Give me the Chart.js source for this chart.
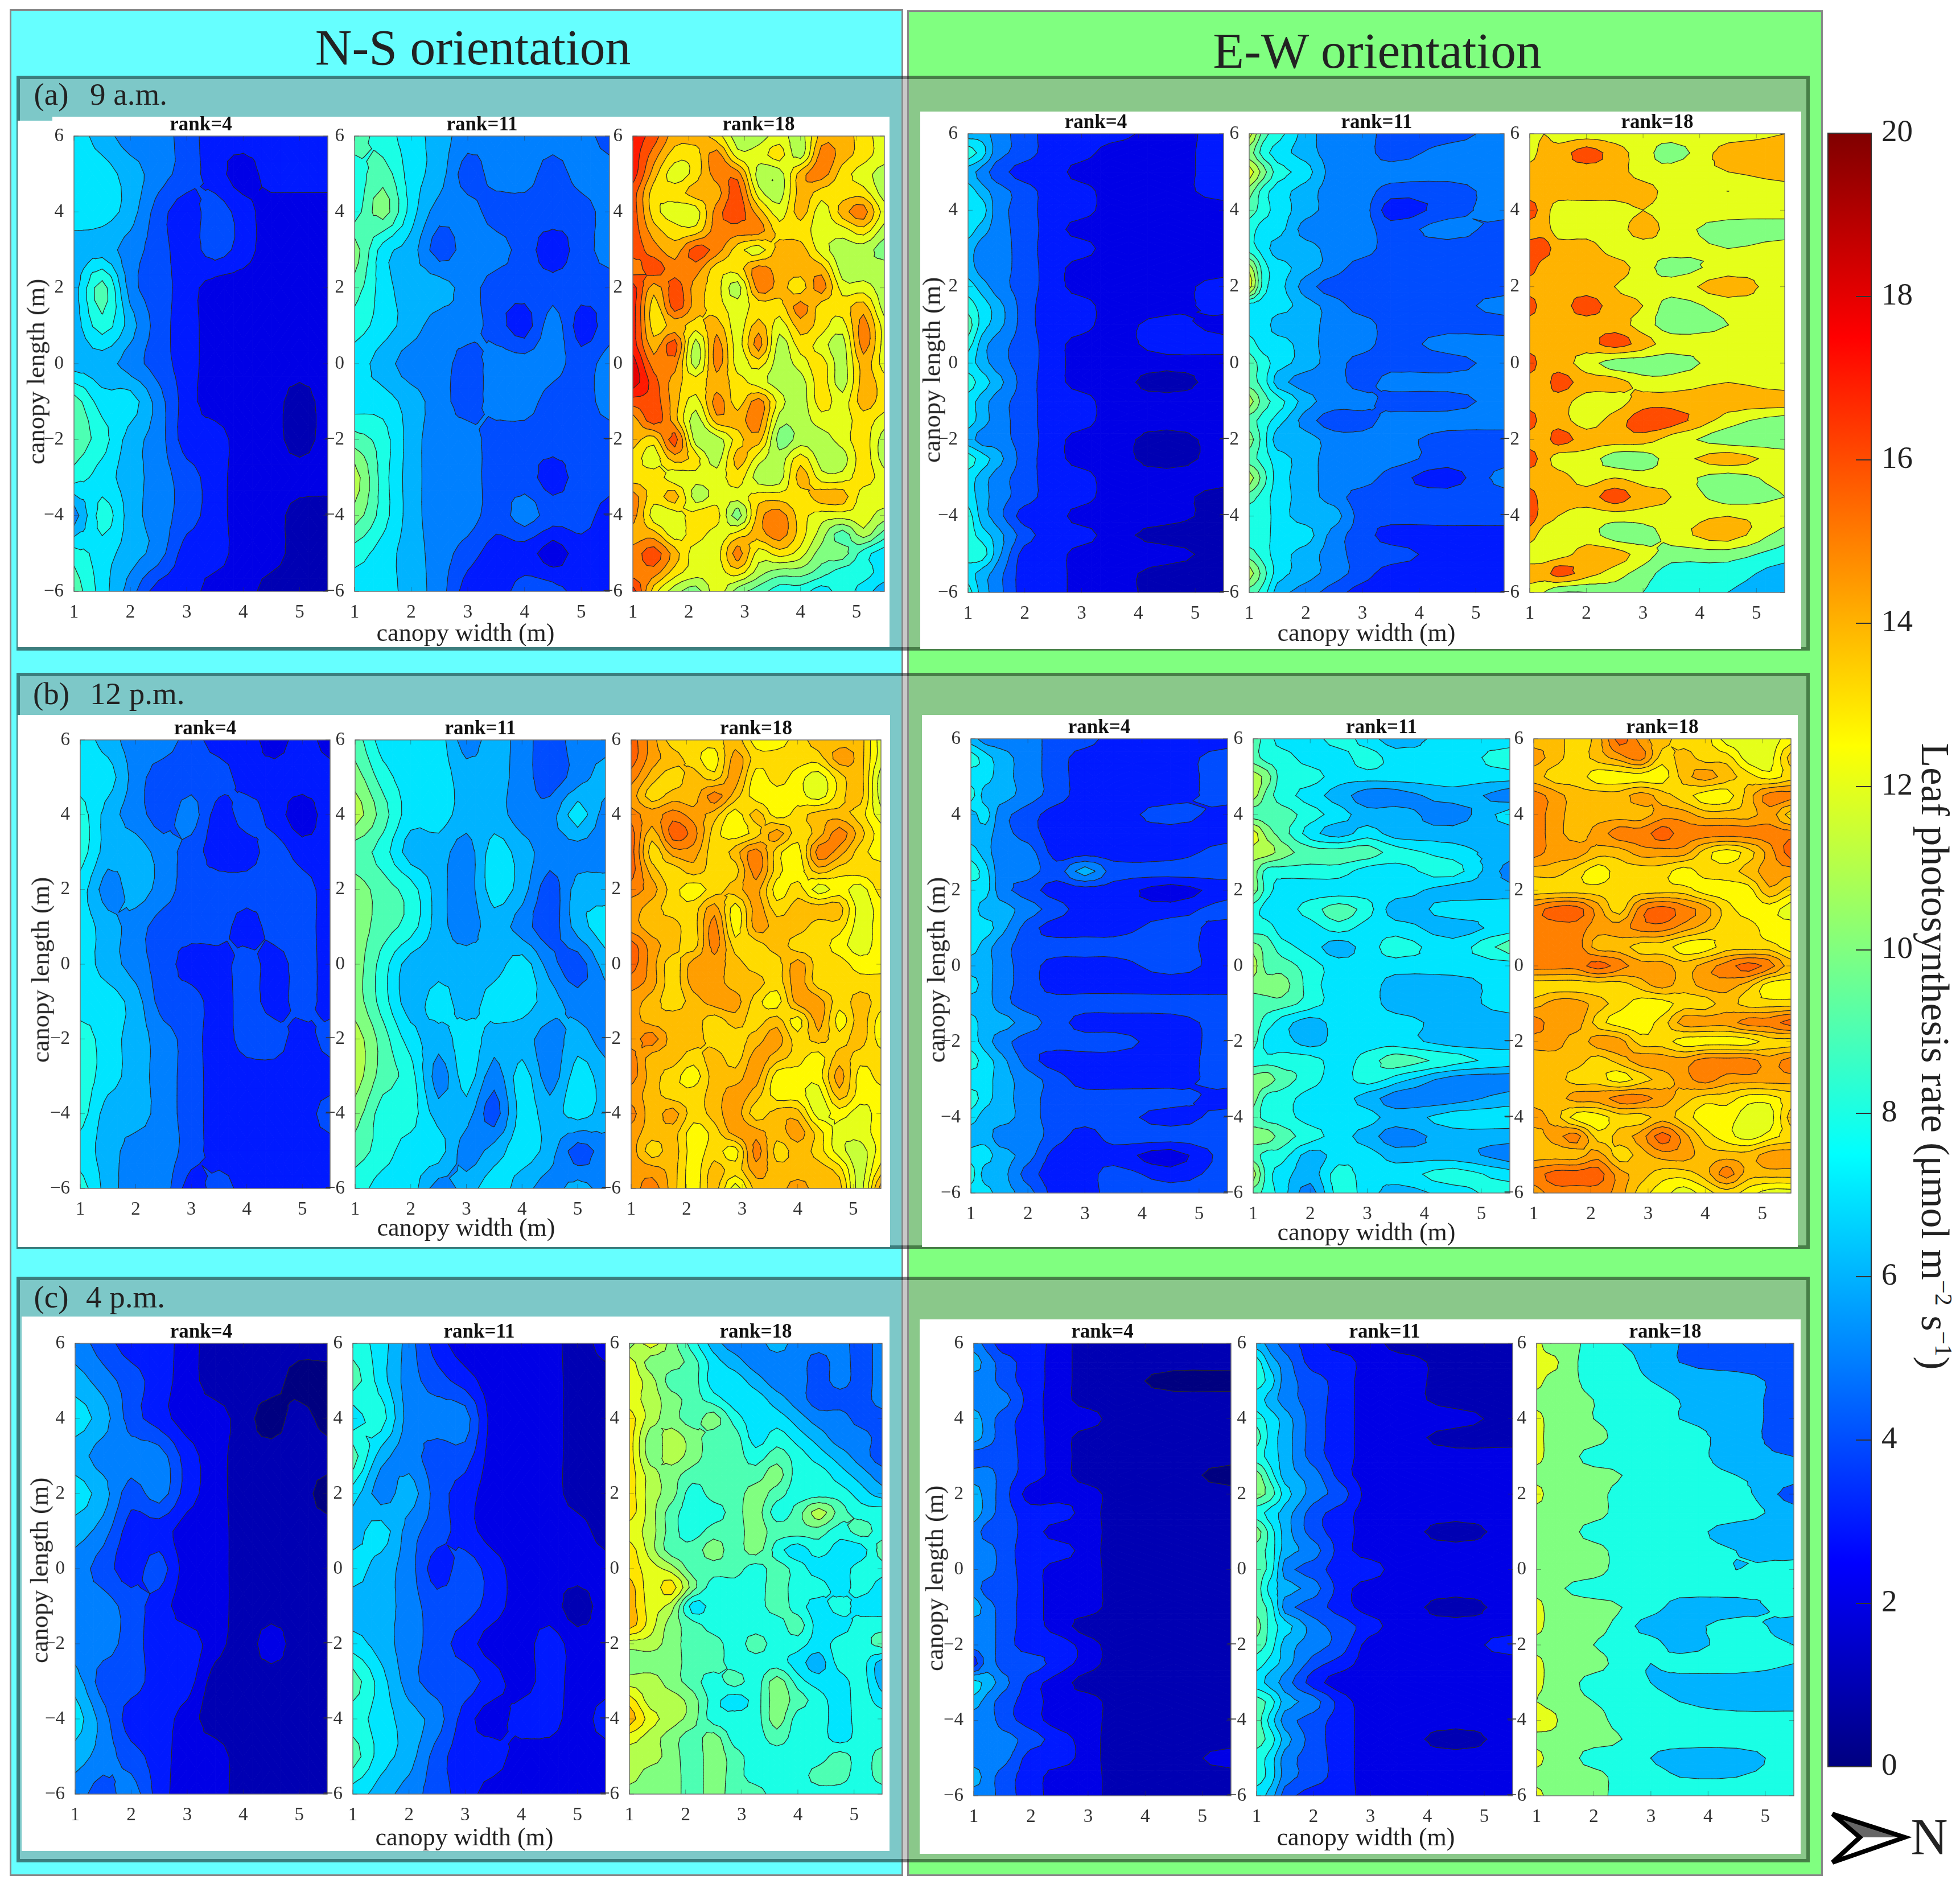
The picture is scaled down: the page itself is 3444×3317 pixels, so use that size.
<!DOCTYPE html>
<html>
<head>
<meta charset="utf-8">
<style>
html, body { margin: 0; padding: 0; background: #fff; }
#page { position: relative; width: 3444px; height: 3317px; overflow: hidden; font-family: "Liberation Serif", serif; color: #222; }
#page div, #page canvas, #page svg { position: absolute; }
.lbl { white-space: nowrap; }
</style>
<script src="https://cdn.jsdelivr.net/npm/chart.js@4/dist/chart.umd.min.js"></script>
</head>
<body>
<div id="page"></div>
<script>
// grids run top row y=6 down to y=-6, values in umol m-2 s-1
var nsX = [1, 1.5, 2, 2.5, 3, 3.5, 4, 4.5, 5, 5.5];
var nsY = [6, 5, 4, 3, 2, 1, 0, -1, -2, -3, -4, -5, -6];
var ewX = [1, 1.25, 1.5, 2, 2.5, 3, 3.5, 4.5, 5.5];
var ewY = [6, 5.5, 5, 4.5, 4, 3.5, 3, 2.5, 2, 1.5, 1, 0.5, 0, -0.5, -1, -1.5, -2, -2.5, -3, -3.5, -4, -4.5, -5, -5.5, -6];
var fineX = [1, 1.375, 1.75, 2.125, 2.5, 2.875, 3.25, 3.625, 4, 4.375, 4.75, 5.125, 5.5];
var xTicks = [1, 2, 3, 4, 5];
var yTicks = [-6, -4, -2, 0, 2, 4, 6];
var barTicks = [0, 2, 4, 6, 8, 10, 12, 14, 16, 18, 20];
var ranks = ['rank=4', 'rank=11', 'rank=18'];

var ns9r4 = [[7,6,5,5,4,3,3,3,3,3],[7,7,6,5,4,3,2,3,3,3],[7,7,6,4,3,4,3,2,2,2],[6,6,5,4,3,4,3,2,2,2],[6,9,5,4,3,2,2,2,2,2],[6,8,6,4,3,2,2,2,2,2],[6,6,5,4,3,2,2,2,2,2],[9,7,7,5,3,2,2,2,1,2],[9,8,6,5,3,3,2,2,1,2],[8,7,6,5,4,3,2,2,2,2],[5,8,6,5,4,3,2,2,1,1],[8,7,6,5,3,3,2,2,1,1],[9,7,5,3,3,2,2,1,1,1]];
var ns9r11 = [[9,8,7,6,5,5,5,5,5,4],[8,9,7,6,4,5,5,4,5,5],[8,10,7,5,5,4,4,4,4,5],[10,7,6,4,5,5,4,3,4,5],[9,7,6,6,5,4,4,4,4,4],[8,7,6,5,5,4,3,5,3,4],[7,6,5,5,4,5,5,5,4,5],[7,7,6,5,4,5,5,4,4,5],[9,8,6,5,5,4,4,4,4,4],[11,8,6,5,5,4,4,3,4,4],[10,8,6,5,5,4,5,4,4,3],[8,7,6,5,4,3,3,2,3,3],[7,7,6,5,3,3,4,4,3,3]];
var ns9r18 = [
[17,16,14,14,13,11,11,12,11,14,14,13,12],
[17,15,13,13,15,12,12,13,11,15,14,13,12],
[17,14,12,13,15,15,11,11,14,15,13,12,11],
[16,13,13,14,14,16,12,11,14,13,13,13,11],
[16,13,12,12,15,16,14,12,14,12,14,15,12],
[16,14,13,13,15,15,15,13,13,12,12,13,11],
[16,15,14,16,15,13,12,14,14,12,11,11,10],
[15,16,15,15,13,13,15,14,14,14,11,11,11],
[17,14,16,14,13,11,15,14,13,15,12,12,11],
[17,13,16,14,13,12,13,13,15,13,13,14,11],
[17,13,14,13,14,12,14,12,14,13,12,15,12],
[17,14,16,11,15,12,15,11,13,12,11,15,12],
[18,15,15,11,15,12,13,11,12,13,11,14,12],
[18,16,14,13,14,13,12,11,11,13,11,14,13],
[16,16,14,12,15,13,15,12,11,13,12,14,13],
[14,16,14,11,14,14,15,11,11,12,12,13,12],
[14,13,16,11,11,13,14,10,11,11,12,13,11],
[13,12,14,13,11,14,12,11,13,11,11,13,11],
[13,13,12,12,12,13,11,11,14,12,12,13,12],
[15,13,14,11,12,12,13,13,13,14,14,12,12],
[15,12,12,13,13,10,14,15,13,12,12,12,11],
[14,14,12,13,12,13,14,15,13,11,9,11,9],
[15,16,14,12,12,15,12,13,12,10,10,8,7],
[15,15,13,12,12,13,11,10,10,9,8,8,7],
[17,13,11,10,12,10,9,8,8,7,8,7,6]];
var ns12r4 = [[7,6,5,5,4,3,3,2,3,2],[7,7,5,4,4,4,3,3,3,3],[8,6,5,4,5,3,4,3,2,3],[8,6,6,5,4,3,3,4,3,3],[7,5,6,5,4,4,4,4,4,3],[7,6,5,4,4,4,3,4,4,3],[7,6,5,4,3,3,4,3,4,3],[7,7,6,4,4,3,4,3,4,3],[8,7,6,5,4,3,4,4,3,4],[8,7,6,5,4,3,3,3,3,3],[8,6,6,5,4,3,3,3,3,4],[7,6,5,5,4,3,3,3,3,3],[8,6,5,5,3,4,3,3,3,3]];
var ns12r11 = [[9,7,7,7,5,6,5,4,5,5],[10,8,7,7,6,6,5,4,5,6],[11,9,7,7,6,6,5,5,7,5],[9,8,6,6,5,7,6,5,5,5],[10,9,8,6,5,7,6,4,6,6],[10,9,8,6,5,6,5,4,6,7],[10,8,6,6,6,6,7,5,4,6],[10,8,6,7,6,7,7,6,5,5],[11,9,7,6,7,6,6,5,6,5],[11,9,8,5,7,5,7,5,7,6],[10,8,8,6,6,4,7,6,7,6],[9,8,7,7,5,6,7,6,4,5],[8,7,7,5,6,7,6,5,6,5]];
var ns12r18 = [
[15.6,14.4,13.2,13.2,13.2,13.8,12.6,12.6,13.2,13.8,13.8,13.8,12],
[15.6,14.4,13.8,13.2,12.6,14.4,13.2,13.2,13.2,13.2,14.4,13.8,12],
[15,13.8,13.2,13.8,13.2,14.4,12.6,13.2,12.6,12,13.2,13.8,11.4],
[14.4,13.2,13.8,13.8,15,13.8,12.6,12.6,12.6,12,13.2,13.8,11.4],
[15,14.4,15,14.4,13.8,12.6,13.8,12.6,13.2,13.8,13.8,13.2,12],
[15.6,13.8,15.6,15,13.2,12.6,13.2,14.4,13.2,13.8,15,13.8,12.6],
[15.6,13.2,14.4,14.4,13.2,13.8,15,13.2,12.6,15,14.4,13.2,12.6],
[15.6,13.8,13.2,13.8,13.2,13.2,15,13.2,12.6,13.8,13.2,13.2,13.2],
[15,14.4,13.2,12.6,13.2,13.8,14.4,12.6,13.2,12,12.6,12,13.2],
[14.4,13.8,13.2,13.2,14.4,12.6,14.4,13.2,13.8,13.8,13.8,12,12.6],
[14.4,13.8,13.8,13.2,15,12.6,14.4,13.8,13.8,13.2,13.2,12,12.6],
[15.6,14.4,13.8,13.2,15,13.2,13.2,13.8,13.2,13.2,12.6,12,12.6],
[15.6,14.4,13.2,14.4,14.4,13.8,13.2,13.2,14.4,13.2,13.2,12.6,12.6],
[15,14.4,13.2,14.4,14.4,13.8,13.8,13.2,14.4,13.2,13.2,13.2,13.2],
[14.4,13.8,13.2,13.8,14.4,14.4,13.2,12.6,14.4,14.4,13.2,13.8,13.2],
[14.4,13.8,13.8,13.8,13.2,13.8,13.2,13.8,12.6,14.4,12.6,13.8,12.6],
[14.4,15,13.8,13.8,13.2,13.2,13.8,14.4,13.2,13.8,13.2,13.8,12.6],
[15,13.8,13.8,13.2,13.8,13.2,14.4,13.8,13.2,12.6,13.8,13.2,13.2],
[15,13.8,13.2,12.6,13.8,13.8,14.4,12.6,12.6,12.6,14.4,12.6,13.2],
[14.4,13.8,13.2,13.2,13.8,14.4,13.8,12.6,12.6,12,13.8,12.6,12.6],
[15,13.8,14.4,13.2,13.8,14.4,13.2,13.8,13.8,12,12.6,12,12.6],
[14.4,13.8,13.8,12.6,13.2,14.4,14.4,13.8,14.4,13.2,12,12,12.6],
[14.4,13.2,13.8,12.6,13.2,12.6,15,13.2,13.8,13.2,12,11.4,12.6],
[14.4,14.4,13.8,12.6,13.8,13.2,14.4,13.8,13.8,13.8,13.2,11.4,13.2],
[14.4,15,13.8,12.6,13.8,12,13.8,13.8,14.4,13.8,13.8,11.4,14.4]];
var ns4r4 = [[5,4,3,3,2,1,1,1,1,1],[6,5,4,3,2,1,1,1,0,0],[7,6,4,3,2,2,1,0,1,0],[6,5,5,5,3,2,1,1,1,1],[7,6,4,5,3,2,1,1,1,0],[6,5,3,3,2,2,1,1,1,1],[5,4,3,4,2,2,1,1,1,1],[5,5,4,3,2,2,1,1,1,1],[5,5,4,3,3,2,1,2,1,1],[6,4,4,3,3,1,1,1,1,1],[7,5,3,3,2,1,1,1,1,1],[6,5,4,3,2,2,1,1,1,1],[5,4,5,3,2,2,1,1,1,1]];
var ns4r11 = [[8,7,5,3,2,2,2,2,1,2],[9,7,5,4,3,2,2,2,1,1],[7,8,5,5,5,2,2,2,1,1],[9,6,5,4,4,2,2,2,1,1],[7,5,6,4,3,2,2,2,1,1],[6,7,5,4,3,2,2,2,2,1],[7,6,5,3,4,3,2,2,2,2],[6,6,5,4,4,3,2,2,1,2],[7,6,5,4,3,2,2,3,2,2],[9,7,5,4,4,3,2,3,2,2],[8,7,6,5,3,2,3,3,2,3],[9,7,6,4,3,3,2,2,2,2],[7,6,5,4,3,2,2,2,2,2]];
var ns4r18 = [
[10,12,10,8,6,5,5,6,5,5,5,4,5],
[12,10,10,9,7,6,5,5,5,4,5,4,5],
[12,11,9,9,7,7,6,5,5,4,5,4,5],
[12,11,10,9,8,7,7,6,5,4,4,4,5],
[13,11,10,9,10,8,7,7,6,5,5,4,4],
[13,10,11,10,9,9,7,8,7,6,5,5,4],
[13,10,11,10,9,9,8,9,8,7,6,5,4],
[13,11,10,9,9,9,9,10,8,8,7,6,5],
[13,11,10,8,9,9,10,9,8,8,8,7,6],
[13,11,9,8,8,9,10,8,9,11,9,8,8],
[12,11,9,8,9,9,10,9,9,9,8,9,8],
[13,11,9,9,10,9,10,8,7,8,7,7,9],
[13,12,11,9,9,9,8,9,8,7,7,8,8],
[14,12,13,10,8,8,8,9,8,8,7,8,7],
[14,12,11,7,8,8,8,9,8,7,8,7,7],
[14,12,10,9,8,8,8,8,9,7,7,8,8],
[11,11,10,9,9,8,9,8,8,7,8,8,9],
[10,10,10,9,9,8,8,8,7,6,8,8,6],
[11,11,10,9,8,9,8,10,8,7,7,8,6],
[13,11,11,10,8,7,8,10,9,8,7,8,7],
[14,12,11,10,8,8,8,10,8,8,7,8,8],
[12,11,10,9,10,8,8,9,8,8,7,8,8],
[11,11,10,9,10,9,8,8,8,8,9,8,9],
[11,10,10,9,10,9,8,8,8,9,9,8,9],
[10,10,10,9,10,9,9,8,8,8,8,8,8]];

var ew9r4 = [[6,6,5,4,3,3,3,2,3],[8,7,5,4,3,3,2,2,3],[6,5,4,3,3,2,2,2,3],[7,6,5,4,3,3,2,2,3],[7,7,5,4,3,3,2,2,2],[7,6,5,4,3,2,2,2,2],[6,5,5,4,3,3,2,2,2],[6,5,5,4,3,2,2,2,2],[7,6,5,4,3,2,2,2,3],[8,7,6,4,3,3,2,2,3],[9,7,6,4,3,3,2,3,2],[8,6,5,4,3,2,2,3,3],[7,6,5,4,3,2,2,2,2],[8,7,6,4,3,2,2,1,2],[7,6,5,4,3,3,2,2,2],[7,6,5,4,3,3,2,2,2],[6,5,5,4,3,2,2,1,2],[8,7,6,4,3,2,2,1,2],[7,6,5,4,3,3,2,2,2],[7,6,5,4,3,3,2,2,1],[8,6,5,3,3,2,2,2,1],[8,7,6,4,3,3,2,1,1],[8,8,6,3,3,2,2,2,1],[7,6,5,3,3,2,2,1,1],[8,6,5,3,3,2,2,1,1]];
var ew9r11 = [[12,9,8,6,5,5,4,4,5],[10,8,7,6,5,5,4,5,5],[12,10,8,7,5,5,5,5,5],[10,8,7,6,5,5,4,4,5],[9,8,7,6,5,5,3,4,5],[8,7,7,5,5,5,4,5,4],[8,7,6,6,5,5,4,4,4],[11,8,7,6,5,4,4,4,4],[12,8,7,5,4,4,4,4,4],[7,7,7,6,5,4,4,4,5],[7,7,6,6,5,5,4,4,4],[8,7,7,6,5,5,4,5,5],[9,8,7,6,5,4,4,4,5],[9,8,6,5,5,4,5,5,5],[11,9,8,6,5,5,4,4,5],[9,8,7,5,4,4,5,5,5],[10,8,6,6,5,5,5,4,4],[9,8,7,6,5,5,5,4,4],[11,9,7,6,5,5,4,3,5],[9,8,7,6,5,4,4,4,4],[8,8,7,6,6,4,4,4,4],[8,8,7,7,5,4,3,3,3],[9,8,7,6,5,4,4,3,3],[11,9,7,6,5,4,3,3,3],[9,8,6,5,4,3,3,3,3]];
var ew9r18 = [[12,13,12,12,12,12,12,12,13],[12,14,14,16,14,12,10,14,14],[14,14,14,14,14,12,12,13,14],[14,14,14,14,14,14,12,11,12],[16,14,12,12,12,13,12,12,12],[14,14,12,12,12,14,12,10,10],[16,16,14,14,12,12,12,11,12],[16,14,14,14,14,12,10,12,12],[14,14,14,14,13,12,12,14,12],[16,14,14,16,14,13,10,12,12],[14,14,14,14,14,12,10,11,12],[14,14,14,14,16,14,12,12,12],[16,14,14,12,10,10,10,12,12],[14,14,16,14,14,12,12,13,12],[14,14,14,12,12,14,14,14,14],[16,14,14,12,14,16,16,12,10],[14,14,16,14,14,14,12,10,10],[16,14,12,12,10,10,12,14,12],[14,14,14,12,13,12,12,10,12],[16,14,14,14,16,14,13,10,11],[16,14,13,12,12,12,12,13,12],[14,12,12,12,10,10,12,14,10],[12,12,12,14,14,12,10,10,8],[14,14,16,14,12,10,8,8,6],[12,11,9,9,10,9,8,7,6]];
var ew12r4 = [[6,5,5,5,4,4,3,3,3],[8,7,6,5,4,3,3,3,4],[7,7,6,5,4,3,3,3,4],[8,6,6,5,4,3,3,3,4],[6,7,5,4,3,3,3,4,3],[6,6,5,4,3,3,3,3,3],[7,6,5,5,3,3,3,3,4],[8,7,5,5,4,6,4,4,4],[7,7,5,4,3,3,3,2,3],[7,6,6,5,4,3,3,3,4],[7,7,6,4,3,3,3,4,3],[7,6,5,4,4,4,4,4,3],[6,6,5,4,3,3,3,4,3],[7,6,5,4,3,3,3,3,3],[6,6,5,4,4,4,4,4,4],[7,6,6,5,4,3,3,3,4],[7,6,5,4,4,4,4,3,4],[8,7,6,4,3,3,3,3,4],[7,7,6,5,4,3,3,3,4],[8,7,6,5,4,4,4,4,3],[7,6,6,5,4,4,4,3,4],[6,6,5,5,4,3,4,4,4],[7,7,6,5,3,3,3,2,4],[8,6,6,4,3,3,4,3,4],[7,7,6,5,3,3,4,4,4]];
var ew12r11 = [[9,8,7,7,8,7,6,7,7],[9,8,8,7,7,8,7,7,8],[11,10,8,8,7,7,7,7,7],[11,9,8,7,6,5,5,6,5],[9,9,9,8,7,6,6,5,7],[12,10,9,7,6,7,6,6,6],[11,11,10,9,9,9,8,7,6],[10,8,8,8,8,7,7,8,5],[10,8,7,7,7,7,7,6,6],[8,7,7,8,9,8,6,7,7],[8,8,7,7,8,7,7,6,7],[10,9,8,7,6,7,8,7,9],[11,9,9,8,7,7,7,7,7],[10,10,10,8,7,7,6,6,7],[9,9,9,8,7,7,6,6,7],[9,8,7,6,7,7,7,6,6],[9,7,7,6,7,7,7,6,6],[8,8,8,8,7,8,9,8,7],[10,10,9,8,7,8,7,5,5],[10,8,8,7,7,6,5,5,6],[9,8,8,7,7,7,6,7,7],[10,10,9,8,7,6,5,6,6],[9,8,8,6,7,7,6,6,5],[11,8,7,6,8,7,7,8,7],[9,8,7,5,8,7,6,7,8]];
var ew12r18 = [
[13.8,13.8,13.2,13.8,15.6,14.4,13.8,13.2,13.2,12,12,12,12.6],
[14.4,13.8,13.2,13.8,14.4,15,13.2,13.8,13.2,13.2,12,12,13.8],
[13.8,13.2,13.2,12.6,12.6,12.6,12.6,13.8,14.4,13.8,13.2,12.6,13.2],
[15,14.4,13.8,13.8,13.8,14.4,13.8,13.2,12.6,12.6,13.8,15,15],
[15,14.4,13.8,13.8,13.8,13.8,14.4,14.4,13.8,13.8,13.8,14.4,13.2],
[15,14.4,13.8,14.4,15,15,15.6,15,15,15,15,15,15],
[15,14.4,14.4,13.8,13.8,14.4,14.4,14.4,13.2,12.6,13.2,14.4,15.6],
[13.8,13.8,13.2,12.6,13.2,13.2,13.2,12.6,13.2,13.2,13.8,14.4,14.4],
[13.2,13.2,13.2,13.2,13.2,13.2,13.2,13.2,12.6,12.6,12.6,14,13.2],
[15,15.6,15.6,14.4,13.2,15,15.6,15,14.4,13.2,12.6,12.6,12],
[15,15,15,14.4,14.4,15,15,14.4,13.8,13.2,13.2,12.6,12.6],
[15,15,15,13.8,13.8,13.2,13.2,12.6,12.6,13.2,13.2,13.2,12.6],
[15,15,15,15.6,15,14.4,14.4,13.8,14.4,15,15.6,15,13.8],
[13.2,13.2,13.2,13.2,13.2,13.8,14.4,13.8,14.4,14.4,13.8,12.6,12.6],
[13.8,14.4,14.4,13.8,13.2,12.6,12.6,13.2,13.2,13.8,13.2,13.2,13.2],
[15,14.4,14.4,13.2,12.6,12.6,13.2,14.4,14.4,14.4,15,15,15.6],
[14.4,14.4,13.8,14.4,14.4,13.2,13.2,12.6,12.6,12.6,12.6,13.2,13.2],
[13.8,13.8,13.8,13.2,13.8,14.4,14.4,14.4,15,15,15,14.4,15],
[13.8,13.8,13.2,13.2,12.6,13.2,13.8,14.4,15,14.4,14.4,14.4,14.4],
[13.8,13.8,14.4,14.4,15,15,14.4,13.8,13.2,13.2,12.6,12.6,13.2],
[14.4,13.8,12.6,12.6,13.2,13.2,13.8,13.2,12.6,12.6,12,12,13.8],
[13.8,14.4,15,13.2,13.8,14.4,15.6,14.4,13.2,12.6,12,12.6,13.2],
[13.8,13.8,13.8,14.4,13.2,13.8,14.4,14.4,13.8,13.8,13.8,14.4,14.4],
[15,15.6,15.6,15.6,14.4,13.8,13.2,13.2,13.8,15,13.8,13.8,13.8],
[14.4,15,15,15,14.4,13.2,12.6,12,12.6,13.2,12.6,12,12]];
var ew4r4 = [[5,4,3,3,2,1,1,1,1],[6,5,4,3,2,1,1,1,1],[5,5,4,3,2,1,1,0,0],[5,5,5,3,2,1,1,1,1],[6,5,4,3,2,2,1,1,1],[6,5,4,3,2,1,1,1,1],[4,4,4,3,2,1,1,1,1],[5,5,4,3,2,1,1,1,0],[6,5,4,2,2,2,1,1,1],[6,5,4,3,3,2,1,1,1],[5,4,4,3,2,2,1,1,1],[5,5,4,3,3,2,1,1,1],[5,5,4,3,2,2,1,1,1],[5,4,4,3,2,2,1,1,1],[6,5,4,3,2,2,1,1,1],[5,5,4,3,2,1,1,1,1],[5,5,4,3,3,2,1,1,1],[3,5,4,4,3,2,1,1,1],[7,6,5,3,2,1,1,1,1],[6,5,4,3,2,2,1,1,1],[5,5,4,3,2,2,1,1,1],[5,5,5,4,3,2,1,1,1],[5,5,5,3,3,2,1,1,2],[6,5,4,3,2,2,1,1,1],[5,5,4,3,2,2,1,1,1]];
var ew4r11 = [[6,5,4,3,2,2,1,1,1],[8,6,5,3,3,2,2,1,1],[8,7,5,4,3,2,2,1,1],[7,6,5,4,3,2,2,1,1],[8,7,6,4,3,2,2,2,1],[9,7,6,4,3,2,2,1,1],[8,7,6,4,3,2,2,2,2],[10,8,6,5,3,2,2,2,2],[10,9,7,5,4,2,2,2,2],[8,7,6,4,3,2,2,2,2],[10,8,6,4,3,2,2,1,2],[9,8,6,5,3,2,2,2,2],[9,8,5,4,3,3,2,2,2],[9,7,6,5,3,2,2,2,2],[9,8,5,4,3,2,2,1,2],[10,8,7,5,4,3,2,2,2],[9,8,6,5,4,2,2,2,3],[8,7,6,4,3,2,2,2,2],[7,6,5,3,2,2,2,2,2],[9,8,6,5,3,2,2,2,2],[9,7,5,4,3,2,2,2,2],[9,8,6,4,3,2,2,1,2],[8,7,5,4,3,2,2,2,2],[8,7,5,4,3,2,2,2,2],[7,6,4,3,3,2,2,2,2]];
var ew4r18 = [[12,9,10,8,7,6,5,4,4],[12,12,10,8,8,6,5,4,4],[12,10,10,8,8,7,6,6,4],[10,10,10,9,8,8,7,6,4],[12,10,10,9,8,8,7,6,4],[12,10,10,10,8,8,8,6,4],[12,10,10,8,8,8,8,6,5],[10,10,10,10,9,8,8,7,6],[12,10,10,10,8,8,8,8,4],[10,10,10,10,8,8,8,8,6],[10,10,10,8,8,8,8,6,6],[10,10,10,10,8,8,8,7,6],[10,10,10,10,8,8,8,7,8],[10,10,9,8,8,8,8,8,7],[12,10,10,10,9,8,6,6,8],[12,10,10,10,8,6,6,8,6],[10,10,10,9,8,8,6,8,7],[12,10,10,10,8,7,8,8,7],[12,10,10,8,8,7,6,6,6],[11,10,10,9,8,8,7,6,6],[13,12,10,10,8,8,8,8,8],[10,10,10,10,9,8,8,8,8],[12,10,10,8,8,7,6,6,8],[10,10,10,10,8,8,7,7,8],[12,10,10,10,8,8,8,8,8]];

var page = document.getElementById('page');
var fontName = '"Liberation Serif", serif';

function box(x0, y0, x1, y1, css) {
    var d = document.createElement('div');
    d.style.cssText = 'left:' + x0 + 'px;top:' + y0 + 'px;width:' + (x1 - x0) + 'px;height:' + (y1 - y0) + 'px;box-sizing:border-box;' + css;
    page.appendChild(d);
}

function label(html, cx, cy, size, rot) {
    var d = document.createElement('div');
    d.className = 'lbl';
    d.innerHTML = html;
    d.style.cssText = 'left:' + cx + 'px;top:' + cy + 'px;font-size:' + size + 'px;line-height:1;transform:translate(-50%,-50%) rotate(' + (rot || 0) + 'deg);';
    page.appendChild(d);
}

function jet(v) {
    var t = v / 20;
    function c(a) { return Math.round(255 * Math.max(0, Math.min(1, 1.5 - Math.abs(4 * t - a)))); }
    return 'rgb(' + c(3) + ',' + c(2) + ',' + c(1) + ')';
}

// keep the part of a triangle/polygon on one side of a level
function clipPoly(poly, level, above) {
    var out = [];
    for (var i = 0; i < poly.length; i++) {
        var a = poly[i], b = poly[(i + 1) % poly.length];
        var ina = above ? a.v >= level : a.v <= level;
        var inb = above ? b.v >= level : b.v <= level;
        if (ina) out.push(a);
        if (ina !== inb) {
            var k = (level - a.v) / (b.v - a.v);
            out.push({ x: a.x + k * (b.x - a.x), y: a.y + k * (b.y - a.y), v: level });
        }
    }
    return out;
}

// rounder contour curves: spline through the read values when drawing
function splineList(arr, n) {
    var out = [], last = arr.length - 1;
    for (var i = 0; i < last; i++) {
        var p0 = arr[Math.max(i - 1, 0)], p1 = arr[i], p2 = arr[i + 1], p3 = arr[Math.min(i + 2, last)];
        for (var k = 0; k < n; k++) {
            var t = k / n;
            out.push(0.5 * (2 * p1 + (p2 - p0) * t + (2 * p0 - 5 * p1 + 4 * p2 - p3) * t * t + (3 * p1 - p0 - 3 * p2 + p3) * t * t * t));
        }
    }
    out.push(arr[last]);
    return out;
}

function lineList(arr, n) {
    var out = [];
    for (var i = 0; i < arr.length - 1; i++) {
        for (var k = 0; k < n; k++) out.push(arr[i] + (arr[i + 1] - arr[i]) * k / n);
    }
    out.push(arr[arr.length - 1]);
    return out;
}

function splineGrid(grid, n) {
    var rows = grid.map(function (r) { return splineList(r, n); });
    var cols = rows[0].map(function (_, c) {
        return splineList(rows.map(function (r) { return r[c]; }), n);
    });
    return cols[0].map(function (_, r) {
        return cols.map(function (col) { return col[r]; });
    });
}

var contourPlugin = {
    id: 'contour',
    beforeDatasetsDraw: function (chart) {
        var ds = chart.data.datasets[0];
        if (!ds.grid) return;
        var ctx = chart.ctx, sx = chart.scales.x, sy = chart.scales.y, step = ds.step;
        var off = step / 2 + 0.01, tris = [], bands = Math.round(20 / step);
        var grid = splineGrid(ds.grid, 3), xs = lineList(ds.xs, 3), ys = lineList(ds.ys, 3);
        for (var r = 0; r < ys.length - 1; r++) {
            for (var c = 0; c < xs.length - 1; c++) {
                var p = [[r, c], [r, c + 1], [r + 1, c + 1], [r + 1, c]].map(function (q) {
                    return { x: sx.getPixelForValue(xs[q[1]]), y: sy.getPixelForValue(ys[q[0]]), v: grid[q[0]][q[1]] };
                });
                if (Math.abs(p[0].v - p[2].v) <= Math.abs(p[1].v - p[3].v)) {
                    tris.push([p[0], p[1], p[2]], [p[0], p[2], p[3]]);
                } else {
                    tris.push([p[0], p[1], p[3]], [p[1], p[2], p[3]]);
                }
            }
        }
        ctx.save();
        ctx.beginPath();
        ctx.rect(chart.chartArea.left, chart.chartArea.top, chart.chartArea.width, chart.chartArea.height);
        ctx.clip();
        ctx.lineWidth = 1;
        ctx.lineJoin = 'round';
        tris.forEach(function (t) {
            var vals = t.map(function (q) { return q.v; });
            var lo = Math.min.apply(null, vals), hi = Math.max.apply(null, vals);
            for (var b = 0; b <= bands; b++) {
                var n = b * step;
                if (n + off < lo || n - step + off > hi) continue;
                var poly = clipPoly(clipPoly(t, n - step + off, true), n + off, false);
                if (poly.length < 3) continue;
                ctx.beginPath();
                poly.forEach(function (q, i) { if (i) ctx.lineTo(q.x, q.y); else ctx.moveTo(q.x, q.y); });
                ctx.closePath();
                ctx.fillStyle = ctx.strokeStyle = jet(n);
                ctx.fill();
                ctx.stroke();
            }
        });
        // contour lines
        ctx.strokeStyle = 'rgb(40,40,40)';
        ctx.lineWidth = 1.2;
        ctx.lineCap = 'round';
        tris.forEach(function (t) {
            for (var b = 0; b <= bands; b++) {
                var lev = b * step + off, pts = [];
                for (var i = 0; i < 3; i++) {
                    var a = t[i], e = t[(i + 1) % 3];
                    if ((a.v < lev) !== (e.v < lev)) {
                        var k = (lev - a.v) / (e.v - a.v);
                        pts.push([a.x + k * (e.x - a.x), a.y + k * (e.y - a.y)]);
                    }
                }
                if (pts.length === 2) {
                    ctx.beginPath();
                    ctx.moveTo(pts[0][0], pts[0][1]);
                    ctx.lineTo(pts[1][0], pts[1][1]);
                    ctx.stroke();
                }
            }
        });
        ctx.restore();
    },
    afterDraw: function (chart) {
        var ctx = chart.ctx, a = chart.chartArea, sx = chart.scales.x, sy = chart.scales.y;
        ctx.save();
        ctx.strokeStyle = '#777';
        ctx.lineWidth = 1.5;
        ctx.strokeRect(a.left, a.top, a.width, a.height);
        ctx.strokeStyle = 'rgba(50,50,50,0.45)';
        ctx.lineWidth = 1;
        ctx.beginPath();
        sx.ticks.forEach(function (t) {
            var px = sx.getPixelForValue(t.value);
            ctx.moveTo(px, a.bottom); ctx.lineTo(px, a.bottom - 8);
            ctx.moveTo(px, a.top); ctx.lineTo(px, a.top + 8);
        });
        sy.ticks.forEach(function (t) {
            var py = sy.getPixelForValue(t.value);
            ctx.moveTo(a.left, py); ctx.lineTo(a.left + 8, py);
            ctx.moveTo(a.right, py); ctx.lineTo(a.right - 8, py);
        });
        ctx.stroke();
        ctx.restore();
    }
};

function minusLabel(v) { return v < 0 ? '\u2212' + (-v) : '' + v; }

function gridPoints(xs, ys, grid) {
    var pts = [];
    ys.forEach(function (y, r) {
        xs.forEach(function (x, c) { pts.push({ x: x, y: y, v: grid[r][c] }); });
    });
    return pts;
}

function contourChart(title, xs, ys, grid, step, x0, y0, x1, y1) {
    var canvas = document.createElement('canvas');
    var left = x0 - 60, top = y0 - 38, w = x1 - x0 + 120, h = y1 - y0 + 98;
    canvas.width = w;
    canvas.height = h;
    canvas.style.cssText = 'left:' + left + 'px;top:' + top + 'px;width:' + w + 'px;height:' + h + 'px;';
    page.appendChild(canvas);
    new Chart(canvas.getContext('2d'), {
        type: 'scatter',
        data: { datasets: [{ data: gridPoints(xs, ys, grid), xs: xs, ys: ys, grid: grid, step: step, pointRadius: 0 }] },
        plugins: [contourPlugin],
        options: {
            responsive: false,
            animation: false,
            devicePixelRatio: 1,
            layout: { autoPadding: false },
            plugins: {
                legend: { display: false },
                tooltip: { enabled: false },
                title: {
                    display: true,
                    text: title,
                    color: '#111',
                    padding: 0,
                    font: { family: fontName, size: 35, weight: 'bold', lineHeight: 38 / 35 }
                }
            },
            scales: {
                x: {
                    type: 'linear', min: 1, max: 5.5,
                    grid: { display: false },
                    border: { display: false },
                    afterBuildTicks: function (s) { s.ticks = xTicks.map(function (v) { return { value: v }; }); },
                    afterFit: function (s) { s.height = 60; },
                    ticks: { color: '#333', padding: 10, maxRotation: 0, font: { family: fontName, size: 33 }, callback: minusLabel }
                },
                y: {
                    type: 'linear', min: -6, max: 6,
                    grid: { display: false },
                    border: { display: false },
                    afterBuildTicks: function (s) { s.ticks = yTicks.map(function (v) { return { value: v }; }); },
                    afterFit: function (s) { s.width = 60; },
                    ticks: { color: '#333', padding: 10, font: { family: fontName, size: 33 }, callback: minusLabel }
                },
                // empty right axis, keeps the plot and its title centred in the canvas
                yRight: {
                    type: 'linear', position: 'right', min: -6, max: 6, display: true,
                    grid: { display: false },
                    border: { display: false },
                    ticks: { display: false },
                    afterFit: function (s) { s.width = 60; }
                }
            }
        }
    });
}

// backgrounds
box(17, 16, 1587, 3296, 'background:#66ffff;border:3px solid #888;');
box(1594, 18, 3203, 3296, 'background:#80ff80;border:3px solid #888;');
var rowBox = 'background:rgba(147,147,147,0.51);background-clip:padding-box;border:6px solid rgba(29,29,29,0.57);';
box(29, 133, 3180, 1143, rowBox);
box(29, 1182, 3180, 2194, rowBox);
box(29, 2243, 3180, 3272, rowBox);
box(31, 212, 1563, 1137, 'background:#fff;');
box(92, 205, 1563, 212, 'background:#fff;');
box(1617, 196, 3165, 1140, 'background:#fff;');
box(31, 1256, 1564, 2191, 'background:#fff;');
box(1620, 1256, 3159, 2191, 'background:#fff;');
box(38, 2313, 1563, 3252, 'background:#fff;');
box(1616, 2318, 3164, 3257, 'background:#fff;');

// panels
contourChart(ranks[0], nsX, nsY, ns9r4, 1, 130, 239, 576, 1039);
contourChart(ranks[1], nsX, nsY, ns9r11, 1, 623, 239, 1071, 1039);
contourChart(ranks[2], fineX, ewY, ns9r18, 1, 1112, 239, 1554, 1039);
contourChart(ranks[0], ewX, ewY, ew9r4, 1, 1701, 235, 2150, 1041);
contourChart(ranks[1], ewX, ewY, ew9r11, 1, 2195, 235, 2643, 1041);
contourChart(ranks[2], ewX, ewY, ew9r18, 2, 2688, 235, 3136, 1041);
contourChart(ranks[0], nsX, nsY, ns12r4, 1, 141, 1300, 580, 2088);
contourChart(ranks[1], nsX, nsY, ns12r11, 1, 624, 1300, 1064, 2088);
contourChart(ranks[2], fineX, ewY, ns12r18, 0.6, 1109, 1300, 1548, 2088);
contourChart(ranks[0], ewX, ewY, ew12r4, 1, 1706, 1298, 2157, 2096);
contourChart(ranks[1], ewX, ewY, ew12r11, 1, 2202, 1298, 2653, 2096);
contourChart(ranks[2], fineX, ewY, ew12r18, 0.6, 2695, 1298, 3147, 2096);
contourChart(ranks[0], nsX, nsY, ns4r4, 1, 132, 2360, 575, 3152);
contourChart(ranks[1], nsX, nsY, ns4r11, 1, 620, 2360, 1064, 3152);
contourChart(ranks[2], fineX, ewY, ns4r18, 1, 1106, 2360, 1550, 3152);
contourChart(ranks[0], ewX, ewY, ew4r4, 1, 1711, 2360, 2163, 3155);
contourChart(ranks[1], ewX, ewY, ew4r11, 1, 2208, 2360, 2658, 3155);
contourChart(ranks[2], ewX, ewY, ew4r18, 2, 2700, 2360, 3152, 3155);

// texts
label('N-S orientation', 831, 83, 89.5);
label('E-W orientation', 2420, 89, 89.5);
[[ '(a)', '9 a.m.', 158, 165 ], [ '(b)', '12 p.m.', 158, 1218 ], [ '(c)', '4 p.m.', 151, 2278 ]].forEach(function (r) {
    label(r[0], 90, r[3], 55);
    var d = document.createElement('div');
    d.className = 'lbl';
    d.textContent = r[1];
    d.style.cssText = 'left:' + r[2] + 'px;top:' + r[3] + 'px;font-size:55px;line-height:1;transform:translateY(-50%);';
    page.appendChild(d);
});
[[818, 1112], [2401, 1112], [819, 2157], [2401, 2165], [816, 3228], [2400, 3228]].forEach(function (p) {
    label('canopy width (m)', p[0], p[1], 44);
});
[[63, 653], [1637, 650], [71, 1704], [1645, 1704], [69, 2759], [1642, 2773]].forEach(function (p) {
    label('canopy length (m)', p[0], p[1], 44.5, -90);
});
label('Leaf photosynthesis rate (\u03bcmol m<sup style="font-size:0.6em;line-height:0">\u22122</sup> s<sup style="font-size:0.6em;line-height:0">\u22121</sup>)', 3400, 1856, 70, 90);

// colour bar
var barCanvas = document.createElement('canvas');
barCanvas.width = 170;
barCanvas.height = 2990;
barCanvas.style.cssText = 'left:3211px;top:174px;width:170px;height:2990px;';
page.appendChild(barCanvas);
var barTickPlugin = {
    id: 'barTicks',
    afterDraw: function (chart) {
        var ctx = chart.ctx, a = chart.chartArea, sy = chart.scales.y;
        ctx.save();
        ctx.strokeStyle = '#333';
        ctx.lineWidth = 2;
        ctx.strokeRect(a.left + 1, a.top, a.width - 2, a.height);
        barTicks.forEach(function (v) {
            var py = sy.getPixelForValue(v);
            ctx.beginPath();
            ctx.moveTo(a.right - 28, py);
            ctx.lineTo(a.right, py);
            ctx.stroke();
        });
        ctx.restore();
    }
};
new Chart(barCanvas.getContext('2d'), {
    type: 'bar',
    data: {
        labels: [''],
        datasets: [{
            data: [[0, 20]],
            barPercentage: 1,
            categoryPercentage: 1,
            backgroundColor: function (c) {
                var area = c.chart.chartArea;
                if (!area) return '#000';
                var g = c.chart.ctx.createLinearGradient(0, area.bottom, 0, area.top);
                barTicks.forEach(function (v) {
                    g.addColorStop(v / 20, jet(v));
                    if (v < 20) g.addColorStop((v + 0.5) / 20, jet(v + 0.5));
                    if (v < 20) g.addColorStop((v + 1) / 20, jet(v + 1));
                    if (v < 20) g.addColorStop((v + 1.5) / 20, jet(v + 1.5));
                });
                return g;
            }
        }]
    },
    plugins: [barTickPlugin],
    options: {
        responsive: false,
        animation: false,
        devicePixelRatio: 1,
        layout: { autoPadding: false, padding: { top: 60, bottom: 60 } },
        plugins: { legend: { display: false }, tooltip: { enabled: false } },
        scales: {
            x: { display: false },
            y: {
                position: 'right',
                min: 0, max: 20,
                grid: { display: false },
                border: { display: false },
                afterBuildTicks: function (s) { s.ticks = barTicks.map(function (v) { return { value: v }; }); },
                afterFit: function (s) { s.width = 92; },
                ticks: { color: '#222', padding: 9, font: { family: fontName, size: 55 } }
            }
        }
    }
});

// north arrow
var svgNS = 'http://www.w3.org/2000/svg';
var svg = document.createElementNS(svgNS, 'svg');
svg.setAttribute('width', '160');
svg.setAttribute('height', '120');
svg.style.cssText = 'left:3205px;top:3170px;';
svg.innerHTML = '<polygon points="15,17 142,58 63,58" fill="#666"/>' +
    '<polygon points="15,17 142,58 15,102 63,58" fill="none" stroke="#000" stroke-width="8" stroke-linejoin="miter"/>';
page.appendChild(svg);
label('N', 3390, 3228, 90);
</script>
</body>
</html>
